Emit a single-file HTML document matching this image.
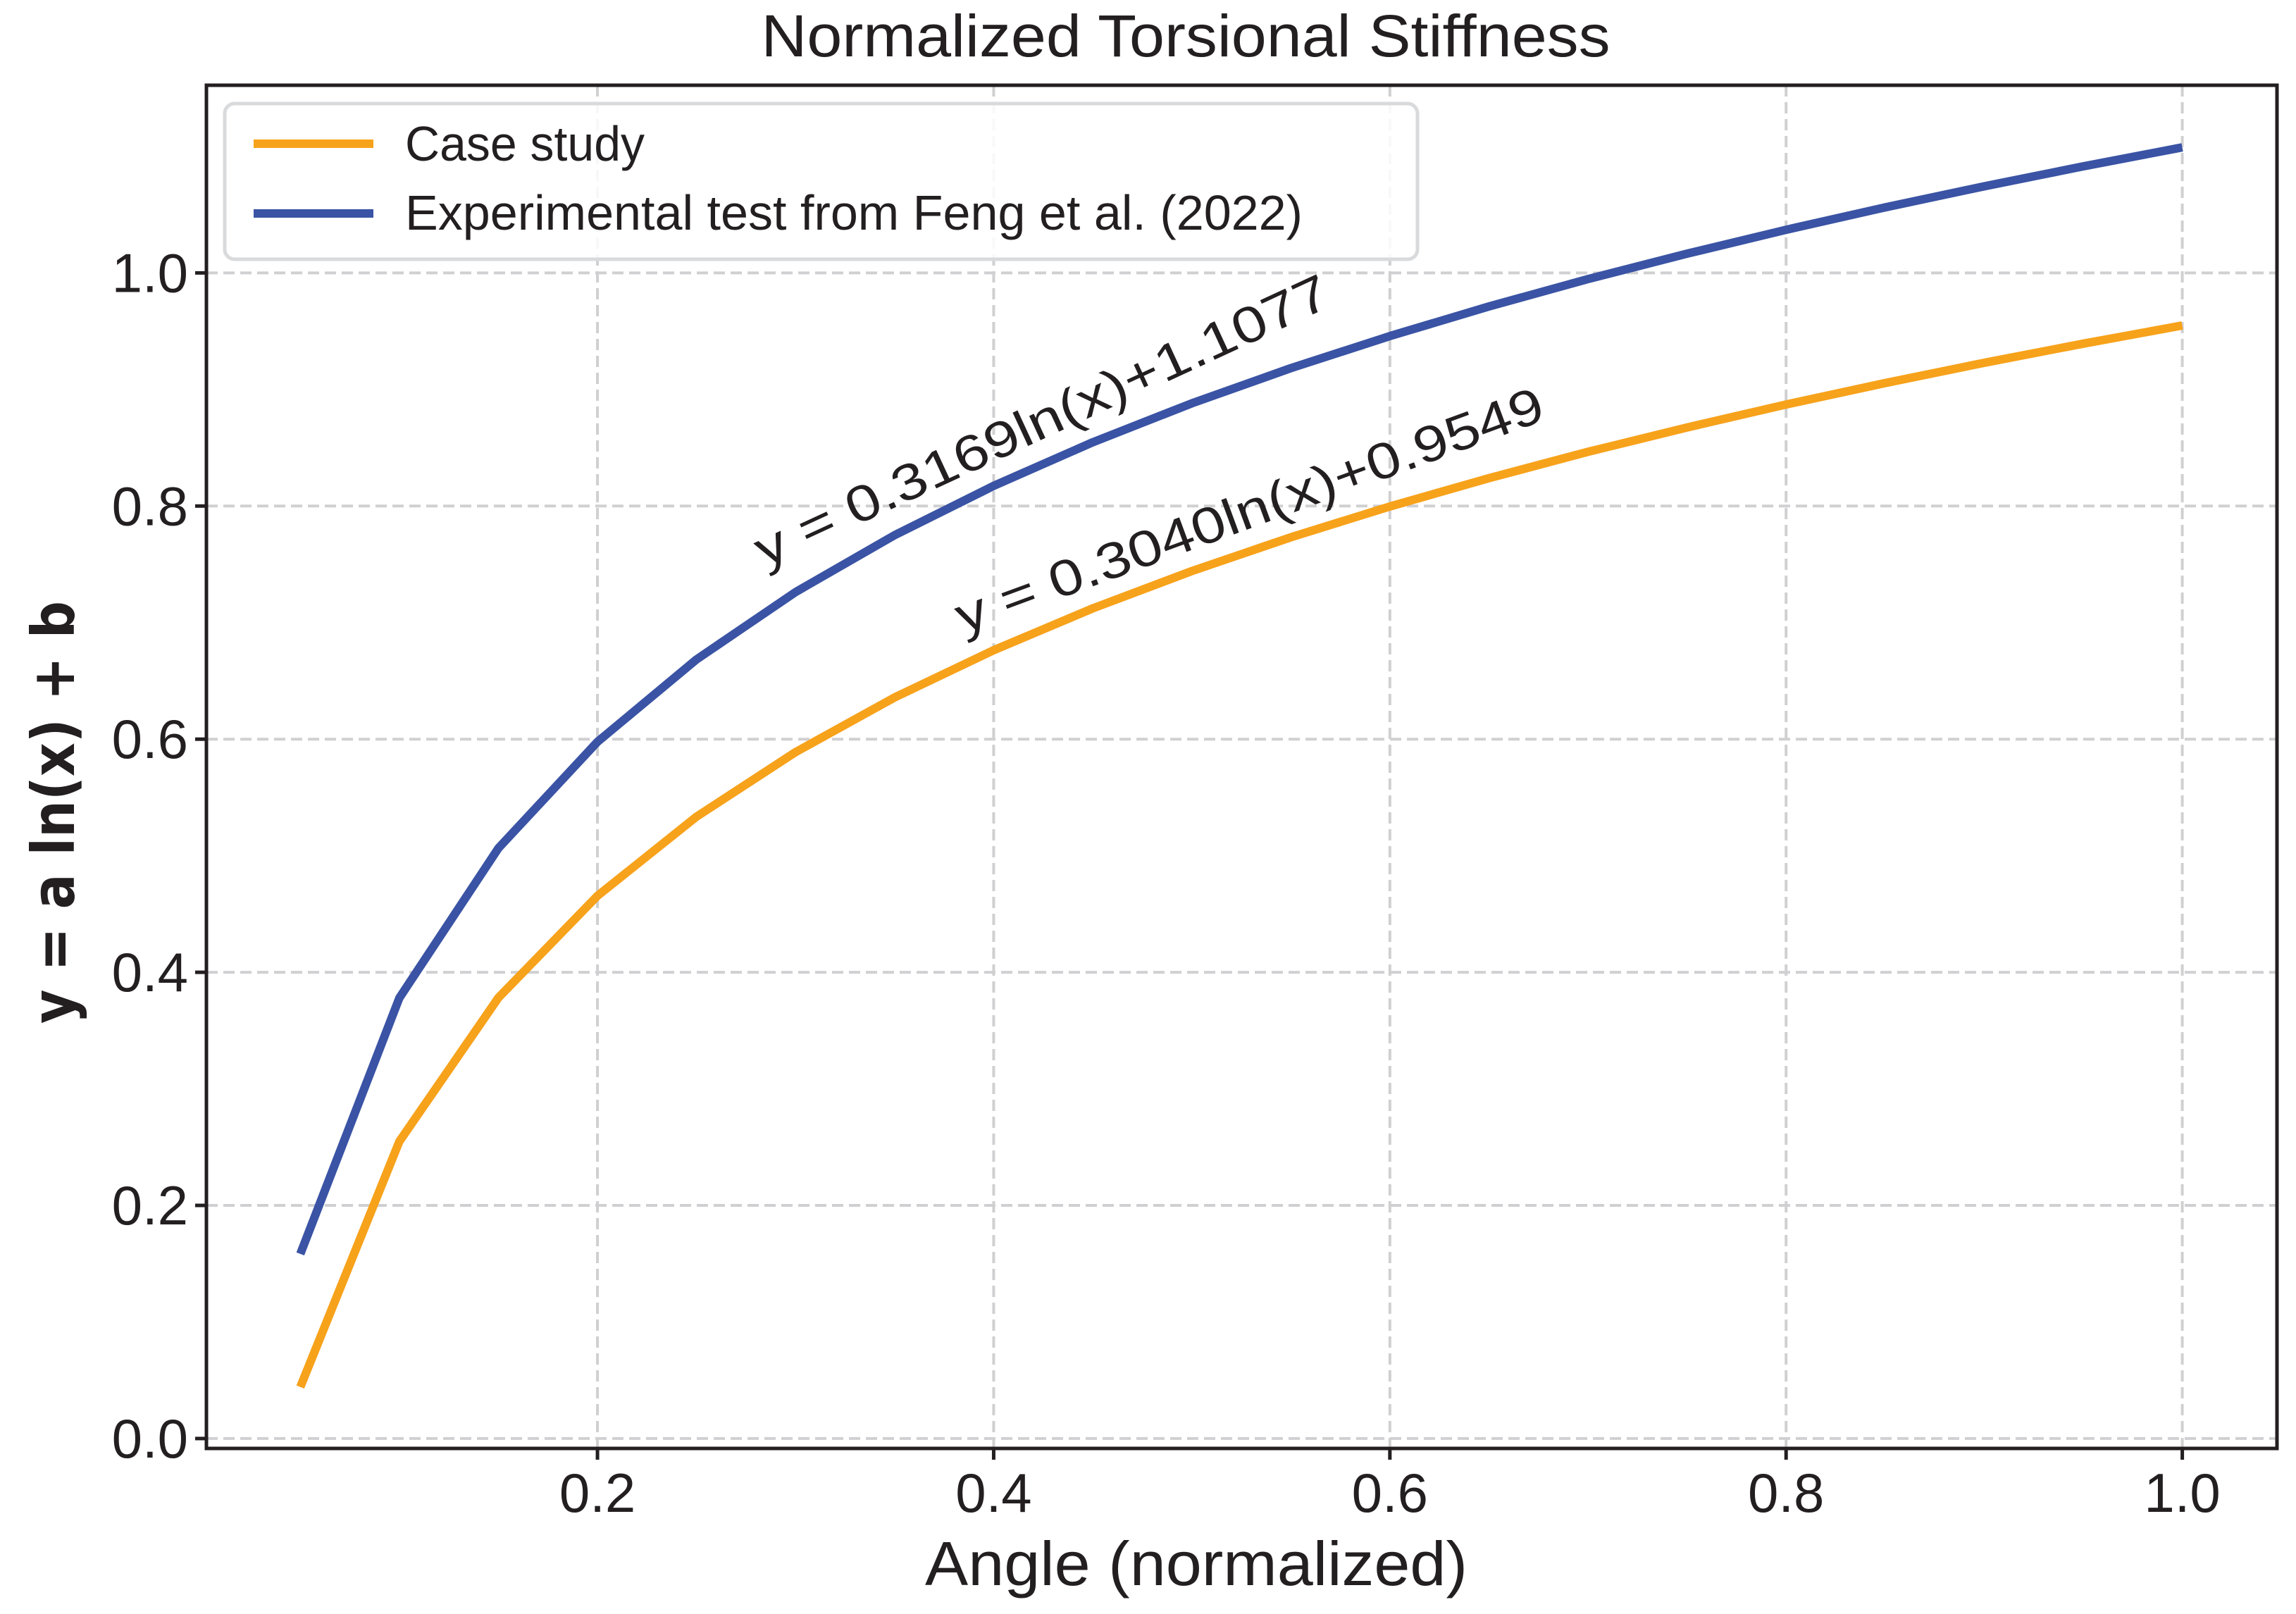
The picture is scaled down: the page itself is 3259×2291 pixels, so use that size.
<!DOCTYPE html>
<html><head><meta charset="utf-8"><style>
html,body{margin:0;padding:0;background:#fff;}
svg{display:block;font-family:"Liberation Sans",sans-serif;}
</style></head><body>
<svg id="chart" width="3259" height="2291" viewBox="0 0 3259 2291">
<text x="1683" y="80" font-size="84" text-anchor="middle" fill="#231f20" textLength="1205" lengthAdjust="spacingAndGlyphs">Normalized Torsional Stiffness</text>
<g id="grid"></g>
<g id="series"></g>
<g id="axes"></g>
<text x="1698" y="2250" font-size="88" text-anchor="middle" fill="#231f20" textLength="770" lengthAdjust="spacingAndGlyphs">Angle (normalized)</text>
<text transform="translate(105,1153) rotate(-90)" font-size="84" text-anchor="middle" fill="#231f20" font-family="DejaVu Sans, sans-serif" font-weight="bold" textLength="600" lengthAdjust="spacingAndGlyphs">y = a ln(x) + b</text>
<text transform="translate(1085,806) rotate(-24.8)" font-size="72" fill="#231f20" textLength="890" lengthAdjust="spacingAndGlyphs">y = 0.3169ln(x)+1.1077</text>
<text transform="translate(1367,900) rotate(-20.2)" font-size="72" fill="#231f20" textLength="884" lengthAdjust="spacingAndGlyphs">y = 0.3040ln(x)+0.9549</text>
<g>
<rect x="319" y="147" width="1693" height="221" rx="14" fill="#fff" fill-opacity="0.85" stroke="#d9dadb" stroke-width="5"/>
<line x1="360" y1="204" x2="530" y2="204" stroke="#F7A21B" stroke-width="12"/>
<text x="575" y="228" font-size="70" fill="#231f20" textLength="340" lengthAdjust="spacingAndGlyphs">Case study</text>
<line x1="360" y1="303" x2="530" y2="303" stroke="#3A53A4" stroke-width="12"/>
<text x="575" y="326" font-size="70" fill="#231f20" textLength="1274" lengthAdjust="spacingAndGlyphs">Experimental test from Feng et al. (2022)</text>
</g>
</svg>
<script>
const xValues = [0.05,0.1,0.15,0.2,0.25,0.3,0.35,0.4,0.45,0.5,0.55,0.6,0.65,0.7,0.75,0.8,0.85,0.9,0.95,1.0];
const caseStudy = [0.0442,0.2549,0.3782,0.4656,0.5335,0.5889,0.6358,0.6763,0.7122,0.7442,0.7732,0.7996,0.8239,0.8465,0.8674,0.8871,0.9055,0.9229,0.9393,0.9549];
const experimental = [0.1584,0.3780,0.5065,0.5977,0.6684,0.7262,0.7750,0.8173,0.8547,0.8881,0.9183,0.9458,0.9712,0.9947,1.0165,1.0370,1.0562,1.0743,1.0914,1.1077];
const xTicks = [0.2,0.4,0.6,0.8,1.0];
const yTicks = [0.0,0.2,0.4,0.6,0.8,1.0];
const xTickLabels = ["0.2","0.4","0.6","0.8","1.0"];
const yTickLabels = ["0.0","0.2","0.4","0.6","0.8","1.0"];

const L=293,R=3232,T=121,B=2056;
const xmin=0.0026,xmax=1.0478,ymin=-0.0085,ymax=1.161;
const sx=v=>L+(v-xmin)/(xmax-xmin)*(R-L);
const sy=v=>B-(v-ymin)/(ymax-ymin)*(B-T);
const NS="http://www.w3.org/2000/svg";
function mk(tag,attrs,parent){const e=document.createElementNS(NS,tag);for(const k in attrs)e.setAttribute(k,attrs[k]);parent.appendChild(e);return e;}
const grid=document.getElementById('grid'),axes=document.getElementById('axes'),series=document.getElementById('series');
xTicks.forEach((t,i)=>{
  const g=mk('line',{x1:sx(t),x2:sx(t),y1:T,y2:B,stroke:'#d0d0d2','stroke-width':4,'stroke-dasharray':'16 8'},grid);
  
  
  const tk=mk('line',{x1:sx(t),x2:sx(t),y1:B,y2:B+16,stroke:'#231f20','stroke-width':5},axes);
  
  
  const lb=mk('text',{x:sx(t),y:B+90,'font-size':78,'text-anchor':'middle',fill:'#231f20'},axes);
  lb.textContent=xTickLabels[i];
  
  
});
yTicks.forEach((t,i)=>{
  const g=mk('line',{x1:L,x2:R,y1:sy(t),y2:sy(t),stroke:'#d0d0d2','stroke-width':4,'stroke-dasharray':'16 8'},grid);
  
  
  const tk=mk('line',{x1:L-16,x2:L,y1:sy(t),y2:sy(t),stroke:'#231f20','stroke-width':5},axes);
  
  
  const lb=mk('text',{x:L-26,y:sy(t)+27,'font-size':78,'text-anchor':'end',fill:'#231f20'},axes);
  lb.textContent=yTickLabels[i];
  
  
});
function line(vals,color,name){
  const p=mk('polyline',{points:xValues.map((x,i)=>sx(x)+','+sy(vals[i])).join(' '),fill:'none',stroke:color,'stroke-width':12,'stroke-linejoin':'round'},series);
  
  
}
line(caseStudy,'#F7A21B','case-study-line');
line(experimental,'#3A53A4','experimental-line');
const fr=mk('rect',{x:L,y:T,width:R-L,height:B-T,fill:'none',stroke:'#231f20','stroke-width':5},axes);


</script>
</body></html>
